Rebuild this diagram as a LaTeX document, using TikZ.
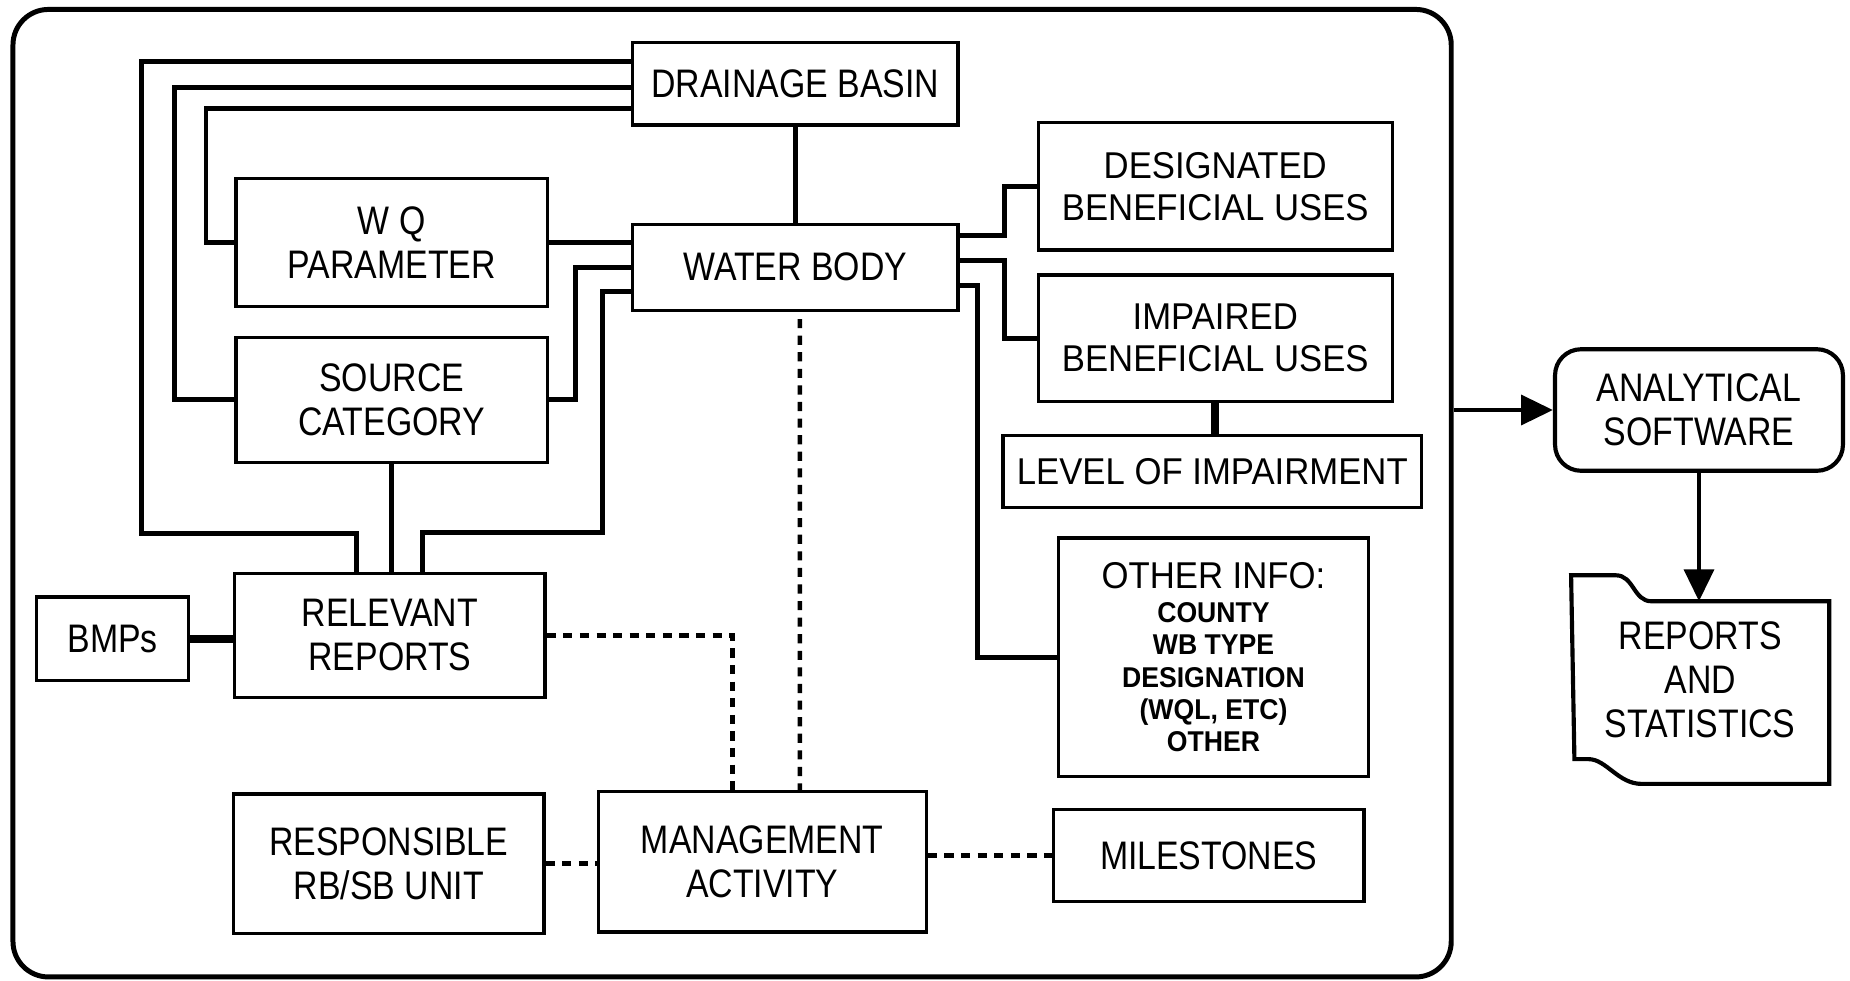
\documentclass[tikz,border=0pt]{standalone}
\usepackage{fontspec}
\setmainfont{Liberation Sans}
\newfontfamily\condfont[FakeStretch=0.85]{Liberation Sans}
\newfontfamily\widefont[FakeStretch=0.93]{Liberation Sans}
\usetikzlibrary{calc,arrows.meta}

\tikzset{
  box/.style={draw, line width=0.8pt, align=center, inner sep=0pt,
    font=\condfont\fontsize{9.6}{10.6}\selectfont},
  widebox/.style={box, font=\widefont\fontsize{9}{10.2}\selectfont},
  frame/.style={draw, line width=1.2pt, rounded corners=0.3cm, inner sep=0pt},
  link/.style={line width=1.2pt},
  heavylink/.style={line width=2pt},
  dotlink/.style={line width=1.1pt, dash pattern=on 2.2pt off 1.8pt},
  flow/.style={line width=1.2pt, -{Triangle[length=0.27cm,width=0.25cm]}}
}
\newcommand{\subfont}{\bfseries\fontsize{6.9}{7.8}\selectfont}

\begin{document}
\begin{tikzpicture}
		%%%%% START %%%%%
		\useasboundingbox (0,0) rectangle (15.68,-8.31);
		
		\node[frame, minimum width=12.19cm, minimum height=8.2cm] (frame) at (6.205,-4.18) {};
		
		\node[box, minimum width=2.76cm, minimum height=0.70cm] (db) at (6.74,-0.71) {DRAINAGE BASIN};
		\node[box, minimum width=2.64cm, minimum height=1.09cm] (wq) at (3.32,-2.055) {W Q\\PARAMETER};
		\node[box, minimum width=2.76cm, minimum height=0.73cm] (wb) at (6.74,-2.265) {WATER BODY};
		\node[box, minimum width=2.64cm, minimum height=1.06cm] (sc) at (3.32,-3.39) {SOURCE\\CATEGORY};
		
		\node[widebox, minimum width=3.00cm, minimum height=1.08cm] (dbu) at (10.30,-1.58) {DESIGNATED\\BENEFICIAL USES};
		\node[widebox, minimum width=3.00cm, minimum height=1.07cm] (ibu) at (10.30,-2.865) {IMPAIRED\\BENEFICIAL USES};
		\node[widebox, minimum width=3.55cm, minimum height=0.61cm] (loi) at (10.275,-3.995) {LEVEL OF IMPAIRMENT};
		\node[widebox, font=\widefont\fontsize{9}{7.8}\selectfont, minimum width=2.63cm, minimum height=2.02cm] (oth) at (10.285,-5.57)
			{OTHER INFO:\\[0.5pt]{\subfont COUNTY}\\{\subfont WB TYPE}\\{\subfont DESIGNATION}\\{\subfont (WQL, ETC)}\\{\subfont OTHER}};
		
		\node[box, minimum width=2.63cm, minimum height=1.05cm] (rr) at (3.305,-5.385) {RELEVANT\\REPORTS};
		\node[box, minimum width=1.29cm, minimum height=0.71cm] (bmp) at (0.955,-5.415) {BMPs};
		\node[box, minimum width=2.63cm, minimum height=1.18cm] (rsp) at (3.295,-7.32) {RESPONSIBLE\\RB/SB UNIT};
		\node[box, minimum width=2.78cm, minimum height=1.19cm] (mgt) at (6.46,-7.305) {MANAGEMENT\\ACTIVITY};
		\node[box, minimum width=2.63cm, minimum height=0.78cm] (mil) at (10.245,-7.25) {MILESTONES};
		
		\node[box, line width=1pt, rounded corners=0.22cm, minimum width=2.44cm, minimum height=1.03cm] (ana) at (14.40,-3.475) {ANALYTICAL\\SOFTWARE};
		\node[box, draw=none, minimum width=2.16cm, minimum height=1.74cm] (rep) at (14.41,-5.76) {REPORTS\\AND\\STATISTICS};
		\draw[line width=1pt] (rep.north west) -- ++(0.38,0) .. controls +(0.15,0) and +(-0.15,0) .. ++(0.30,-0.22)
			-- ($(rep.north east)+(0,-0.22)$) -- (rep.south east) -- ++(-1.59,0)
			.. controls +(-0.2,0) and +(0.15,0) .. ++(-0.45,0.21) -- ++(-0.12,0) -- cycle;
		
		% solid links on the left
		\draw[link] (db.south) -- (wb.north);
		\draw[link] ($(db.west)+(0,0.19)$) -| (1.20,-4.52) -| ($(rr.north)+(-0.28,0)$);
		\draw[link] ($(db.west)+(0,-0.03)$) -| ($(sc.west)+(-0.51,0)$) -- (sc.west);
		\draw[link] ($(db.west)+(0,-0.21)$) -| ($(wq.west)+(-0.24,0)$) -- (wq.west);
		\draw[link] (wq.east) -- (wq.east -| wb.west);
		\draw[link] (sc.east) -- ++(0.22,0) |- (wb.west);
		\draw[link] ($(wb.west)+(0,-0.205)$) -| (5.11,-4.51) -| ($(rr.north)+(0.28,0)$);
		\draw[link] (sc.south) -- (sc.south |- rr.north);
		\draw[heavylink] (bmp.east) -- (bmp.east -| rr.west);
		
		% solid links on the right
		\draw[link] ($(wb.east)+(0,0.265)$) -| ($(dbu.west)+(-0.27,0)$) -- (dbu.west);
		\draw[link] ($(wb.east)+(0,0.055)$) -| ($(ibu.west)+(-0.27,0)$) -- (ibu.west);
		\draw[link] ($(wb.east)+(0,-0.155)$) -| ($(oth.west)+(-0.67,0)$) -- (oth.west);
		\draw[heavylink] (ibu.south) -- (ibu.south |- loi.north);
		
		% dashed links
		\draw[dotlink] (rr.east) -| ($(mgt.north)+(-0.25,0)$);
		\draw[dotlink] ($(wb.south)+(0.04,-0.06)$) -- ($(mgt.north)+(0.32,0)$);
		\draw[dotlink] (rsp.east) -- (rsp.east -| mgt.west);
		\draw[dotlink] (mil.west -| mgt.east) -- (mil.west);
		
		% output
		\draw[flow] (frame.east |- ana.west) -- (ana.west);
		\draw[flow] (ana.south) -- ($(ana.south |- rep.north)+(0,-0.22)$);
		%%%%% END %%%%%
\end{tikzpicture}
\end{document}
